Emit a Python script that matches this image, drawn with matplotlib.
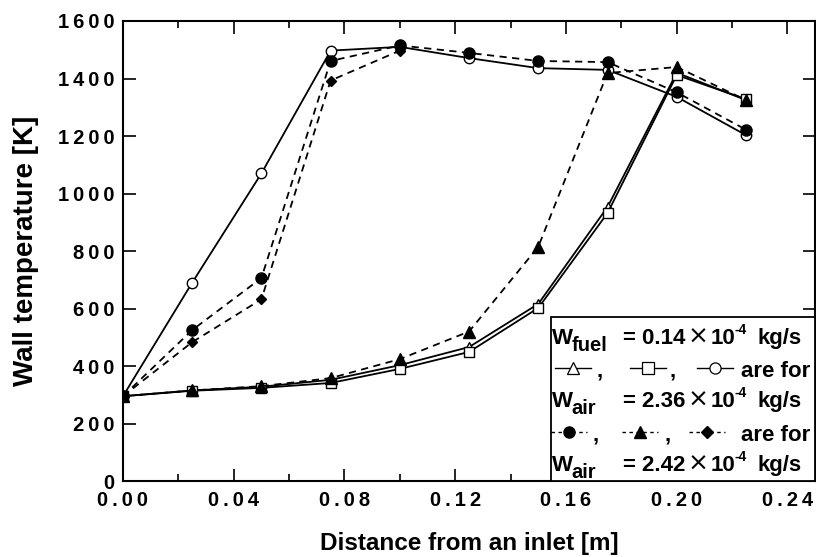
import matplotlib
matplotlib.use("Agg")
import matplotlib.pyplot as plt
from matplotlib.ticker import MultipleLocator, FuncFormatter
from matplotlib.patches import Rectangle

plt.rcParams['font.family'] = ['Liberation Sans', 'DejaVu Sans']
plt.rcParams['font.weight'] = 'bold'

# distance from inlet [m]
dist = [0.0, 0.025, 0.05, 0.075, 0.1, 0.125, 0.15, 0.175, 0.2, 0.225]

# W_air = 2.36e-4 kg/s (solid lines)
t_tri_open = [295, 315, 328, 352, 403, 466, 616, 953, 1420, 1325]
t_sq_open = [295, 314, 324, 341, 390, 449, 602, 932, 1412, 1328]
t_circ_open = [295, 690, 1070, 1497, 1510, 1471, 1436, 1430, 1336, 1203]

# W_air = 2.42e-4 kg/s (dashed lines)
t_circ_fill = [295, 525, 706, 1461, 1515, 1489, 1461, 1457, 1352, 1222]
t_tri_fill = [295, 315, 330, 358, 424, 520, 815, 1419, 1440, 1325]
dist_dia = [0.0, 0.025, 0.05, 0.075, 0.1]
t_dia_fill = [295, 483, 632, 1393, 1497]

x_ticks = [0.0, 0.04, 0.08, 0.12, 0.16, 0.20, 0.24]

fig = plt.figure(figsize=(8.16, 5.57), dpi=100)
ax = fig.add_axes([0.1507, 0.1364, 0.8483, 0.8259])

lw = 1.3
dash = (4, 3)
ax.plot(dist, t_tri_open, '-', color='black', lw=lw, marker='^', ms=7, mfc='white', mec='black', mew=1)
ax.plot(dist, t_sq_open, '-', color='black', lw=lw, marker='s', ms=7, mfc='white', mec='black', mew=1)
ax.plot(dist, t_circ_open, '-', color='black', lw=lw, marker='o', ms=7.5, mfc='white', mec='black', mew=1)
ax.plot(dist, t_tri_fill, '--', color='black', lw=lw, dashes=dash, marker='^', ms=8, mfc='black', mec='black')
ax.plot(dist_dia, t_dia_fill, '--', color='black', lw=lw, dashes=dash, marker='D', ms=5.5, mfc='black', mec='black')
ax.plot(dist, t_circ_fill, '--', color='black', lw=lw, dashes=dash, marker='o', ms=8, mfc='black', mec='black')

ax.set_xlim(0, 0.25)
ax.set_ylim(0, 1600)
ax.set_xticks(x_ticks)
ax.xaxis.set_minor_locator(MultipleLocator(0.02))
ax.yaxis.set_major_locator(MultipleLocator(200))


def spaced(s):
    # wide letter spacing on the tick numbers
    return '\u2009'.join(s)


ax.xaxis.set_major_formatter(FuncFormatter(lambda v, p: spaced(f'{v:.2f}')))
ax.yaxis.set_major_formatter(FuncFormatter(lambda v, p: spaced(f'{v:.0f}')))
ax.tick_params(which='major', direction='in', length=9, width=1.2, top=True, right=True,
               labelsize=14.5)
ax.tick_params(axis='x', which='major', pad=7)
ax.tick_params(axis='y', which='major', pad=6)
ax.tick_params(which='minor', direction='in', length=5, width=1.2, top=True, right=True)
for lab in ax.get_xticklabels() + ax.get_yticklabels():
    lab.set_fontweight('bold')
for sp in ax.spines.values():
    sp.set_linewidth(1.5)

ax.set_xlabel('Distance from an inlet [m]', fontsize=17.5, fontweight='bold', labelpad=16)
ax.set_ylabel('Wall temperature [K]', fontsize=20, fontweight='bold', labelpad=14)

# annotation box with flow conditions
box_x0 = 0.618
ax.add_patch(Rectangle((box_x0, 0), 1 - box_x0, 0.357, transform=ax.transAxes,
                       facecolor='white', edgecolor='black', lw=1.3, zorder=5))

fs = 16
row_y = [0.317, 0.246, 0.180, 0.107, 0.041]
kw = dict(transform=ax.transAxes, fontweight='bold', va='baseline', ha='left', zorder=6)
base_off = -0.019
for y, sub, val in [(row_y[0], 'fuel', '0.14'), (row_y[2], 'air', '2.36'), (row_y[4], 'air', '2.42')]:
    yb = y + base_off
    ax.text(0.620, yb, 'W', fontsize=fs, **kw)
    ax.text(0.648, yb - 0.015, sub, fontsize=fs - 1.5, **kw)
    ax.text(0.722, yb, '= ' + val, fontsize=fs, **kw)
    ax.text(0.816, yb, '\u00d7', fontsize=fs + 2, fontweight='normal', family='DejaVu Sans',
            transform=ax.transAxes, va='baseline', ha='left', zorder=6)
    ax.text(0.849, yb, '10', fontsize=fs, **kw)
    ax.text(0.883, yb + 0.022, '-4', fontsize=fs - 6, **kw)
    ax.text(0.916, yb, 'kg/s', fontsize=fs, **kw)

# key glyphs: solid line with open marker, dashed line with filled marker
key_kw = dict(transform=ax.transAxes, clip_on=False, zorder=7, color='black')
for xc, m in [(0.650, '^'), (0.758, 's'), (0.855, 'o')]:
    ax.plot([xc - 0.026, xc + 0.026], [row_y[1], row_y[1]], '-', lw=1.0, **key_kw)
    ax.plot([xc], [row_y[1]], marker=m, ms=8, mfc='white', mec='black', mew=0.9, ls='none', **key_kw)
for xc, m, ms in [(0.645, 'o', 8), (0.747, '^', 8), (0.844, 'D', 6)]:
    ax.plot([xc - 0.026, xc + 0.026], [row_y[3], row_y[3]], lw=1.0, dashes=(2.5, 2.5), **key_kw)
    ax.plot([xc], [row_y[3]], marker=m, ms=ms, mfc='black', mec='black', ls='none', **key_kw)
for xc in [0.684, 0.789]:
    ax.text(xc, row_y[1] + base_off, ',', fontsize=fs, **kw)
    ax.text(xc - 0.006, row_y[3] + base_off, ',', fontsize=fs, **kw)
ax.text(0.893, row_y[1] + base_off, 'are for', fontsize=fs, **kw)
ax.text(0.893, row_y[3] + base_off, 'are for', fontsize=fs, **kw)

fig.savefig('out.png', dpi=100)
